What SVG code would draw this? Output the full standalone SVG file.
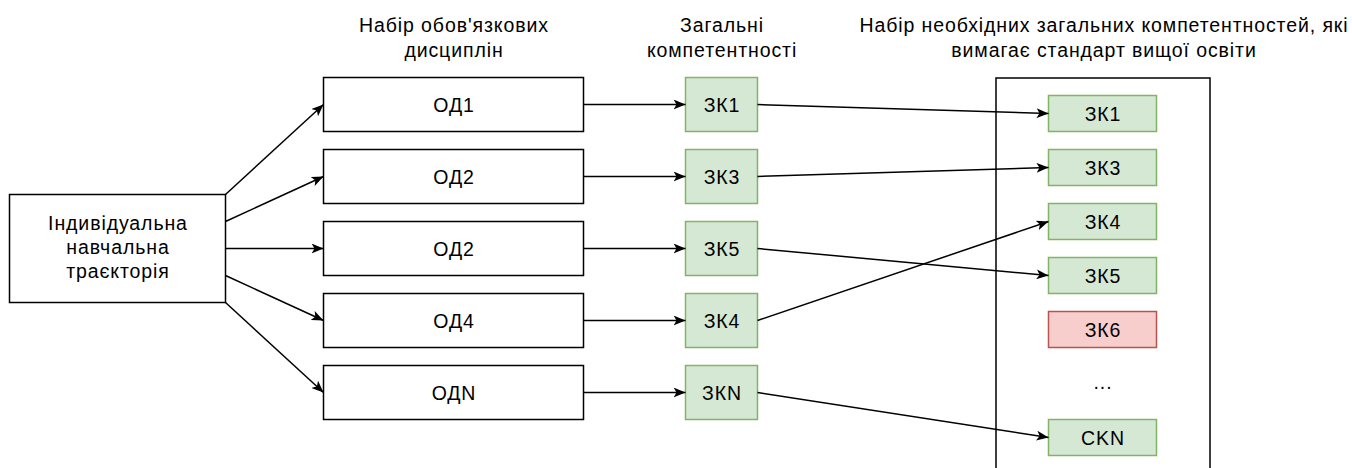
<svg xmlns="http://www.w3.org/2000/svg" width="1352" height="468" viewBox="0 0 1352 468">
<style>
  text { font-family: "Liberation Sans", Arial, sans-serif; font-size: 19.5px; letter-spacing: 0.9px; fill: #000; text-anchor: middle; }
  .box { fill: #fff; stroke: #000; stroke-width: 1.5; }
  .grn { fill: #d5e8d4; stroke: #82b366; stroke-width: 1.5; }
  .red { fill: #f8cecc; stroke: #b85450; stroke-width: 1.5; }
  .cont { fill: none; stroke: #000; stroke-width: 1.5; }
  .edge { fill: none; stroke: #000; stroke-width: 1.5; marker-end: url(#arr); }
</style>
<defs>
  <marker id="arr" markerUnits="userSpaceOnUse" viewBox="0 0 12 10" refX="12" refY="5" markerWidth="12" markerHeight="10" orient="auto">
    <path d="M0,0 L12,5 L0,10 L3,5 Z" fill="#000"/>
  </marker>
</defs>
<rect width="1352" height="468" fill="#fff"/>

<g id="headers">
  <text x="454" y="32">Набір обов'язкових</text>
  <text x="454" y="57">дисциплін</text>
  <text x="722" y="32">Загальні</text>
  <text x="722" y="57">компетентності</text>
  <text x="1104" y="32">Набір необхідних загальних компетентностей, які</text>
  <text x="1104" y="57">вимагає стандарт вищої освіти</text>
</g>

<g id="container"><rect class="cont" x="996" y="78" width="214" height="400"/></g>

<g id="start"><rect class="box" x="9.5" y="194.5" width="216" height="108"/>
  <text x="118" y="229.5">Індивідуальна</text>
  <text x="118" y="253.5">навчальна</text>
  <text x="118" y="277.5">траєкторія</text>
</g>

<g id="od1"><rect class="box" x="323.5" y="77.5" width="260" height="54"/><text x="454" y="111.5">ОД1</text></g>
<g id="od2a"><rect class="box" x="323.5" y="149.5" width="260" height="54"/><text x="454" y="183.5">ОД2</text></g>
<g id="od2b"><rect class="box" x="323.5" y="221.5" width="260" height="54"/><text x="454" y="255.5">ОД2</text></g>
<g id="od4"><rect class="box" x="323.5" y="293.5" width="260" height="54"/><text x="454" y="327.5">ОД4</text></g>
<g id="odn"><rect class="box" x="323.5" y="365.5" width="260" height="54"/><text x="454" y="399.5">ОДN</text></g>

<g id="zk1"><rect class="grn" x="685.5" y="77.5" width="72" height="54"/><text x="722" y="111.5">ЗК1</text></g>
<g id="zk3"><rect class="grn" x="685.5" y="149.5" width="72" height="54"/><text x="722" y="183.5">ЗК3</text></g>
<g id="zk5"><rect class="grn" x="685.5" y="221.5" width="72" height="54"/><text x="722" y="255.5">ЗК5</text></g>
<g id="zk4"><rect class="grn" x="685.5" y="293.5" width="72" height="54"/><text x="722" y="327.5">ЗК4</text></g>
<g id="zkn"><rect class="grn" x="685.5" y="365.5" width="72" height="54"/><text x="722" y="399.5">ЗКN</text></g>

<g id="s-zk1"><rect class="grn" x="1048.5" y="95.5" width="108" height="36"/><text x="1103" y="120.5">ЗК1</text></g>
<g id="s-zk3"><rect class="grn" x="1048.5" y="149.5" width="108" height="36"/><text x="1103" y="174.5">ЗК3</text></g>
<g id="s-zk4"><rect class="grn" x="1048.5" y="203.5" width="108" height="36"/><text x="1103" y="228.5">ЗК4</text></g>
<g id="s-zk5"><rect class="grn" x="1048.5" y="257.5" width="108" height="36"/><text x="1103" y="282.5">ЗК5</text></g>
<g id="s-zk6"><rect class="red" x="1048.5" y="311.5" width="108" height="36"/><text x="1103" y="336.5">ЗК6</text></g>
<g id="s-dots"><text x="1103" y="389">...</text></g>
<g id="s-ckn"><rect class="grn" x="1048.5" y="419.5" width="108" height="36"/><text x="1103" y="444.5">CKN</text></g>

<g id="connectors">
  <path class="edge" d="M225.5,194.5 L323.5,104.5"/>
  <path class="edge" d="M225.5,221.5 L323.5,176.5"/>
  <path class="edge" d="M225.5,248.5 L323.5,248.5"/>
  <path class="edge" d="M225.5,275.5 L323.5,320.5"/>
  <path class="edge" d="M225.5,302.5 L323.5,392.5"/>
  <path class="edge" d="M583.5,104.5 L685.5,104.5"/>
  <path class="edge" d="M583.5,176.5 L685.5,176.5"/>
  <path class="edge" d="M583.5,248.5 L685.5,248.5"/>
  <path class="edge" d="M583.5,320.5 L685.5,320.5"/>
  <path class="edge" d="M583.5,392.5 L685.5,392.5"/>
  <path class="edge" d="M757.5,104.5 L1048.5,113.5"/>
  <path class="edge" d="M757.5,176.5 L1048.5,167.5"/>
  <path class="edge" d="M757.5,248.5 L1048.5,275.5"/>
  <path class="edge" d="M757.5,320.5 L1048.5,221.5"/>
  <path class="edge" d="M757.5,392.5 L1048.5,437.5"/>
</g>
</svg>
